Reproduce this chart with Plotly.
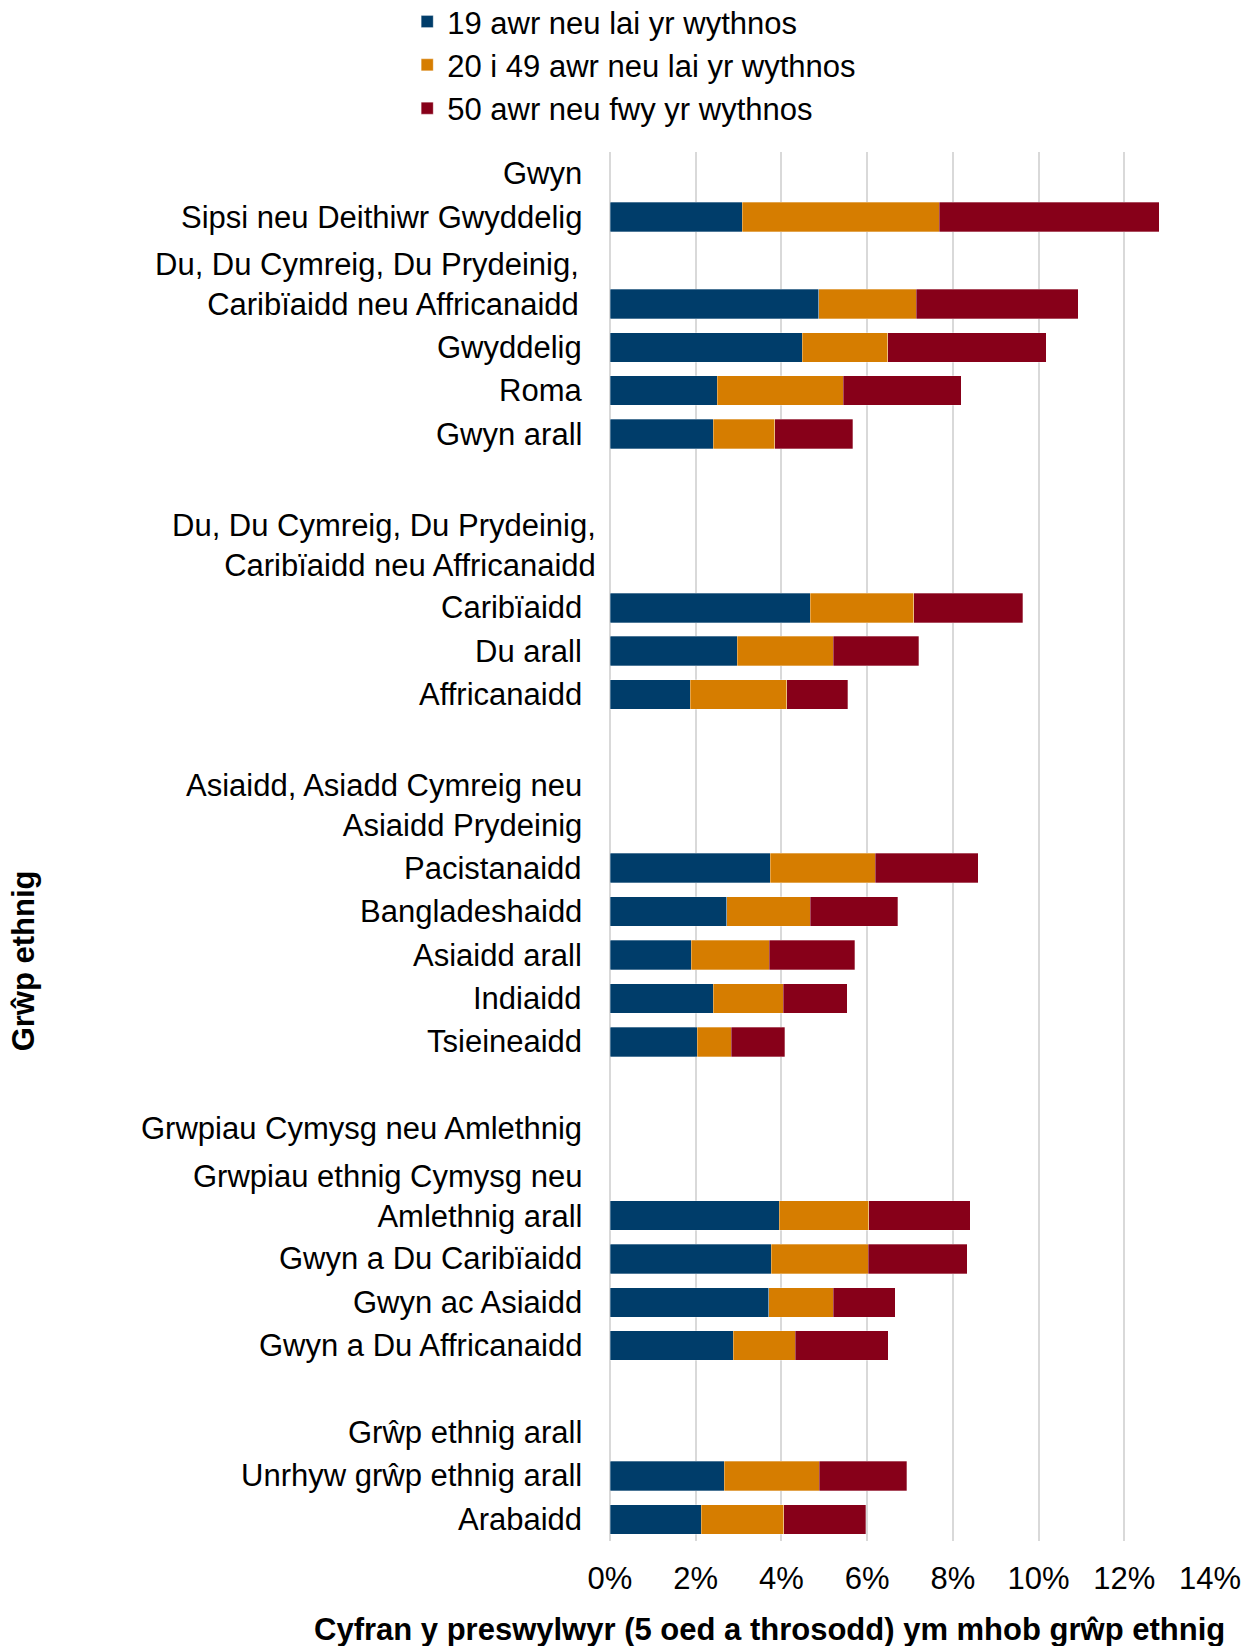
import plotly.graph_objects as go

# ---- data ----
row_labels = [
    "Gwyn", "Sipsi neu Deithiwr Gwyddelig", "",
    "Du, Du Cymreig, Du Prydeinig,<br>Caribïaidd neu Affricanaidd",
    "Gwyddelig", "Roma", "Gwyn arall", "", "",
    "Du, Du Cymreig, Du Prydeinig,<br>Caribïaidd neu Affricanaidd",
    "Caribïaidd", "Du arall", "Affricanaidd", "", "",
    "Asiaidd, Asiadd Cymreig neu<br>Asiaidd Prydeinig",
    "Pacistanaidd", "Bangladeshaidd", "Asiaidd arall", "Indiaidd", "Tsieineaidd", "",
    "Grwpiau Cymysg neu Amlethnig", "",
    "Grwpiau ethnig Cymysg neu<br>Amlethnig arall",
    "Gwyn a Du Caribïaidd", "Gwyn ac Asiaidd", "Gwyn a Du Affricanaidd", "",
    "Grŵp ethnig arall", "Unrhyw grŵp ethnig arall", "Arabaidd",
]
low = [None, 3.09, None, 4.87, 4.48, 2.50, 2.41, None, None, None, 4.67, 2.97, 1.87,
       None, None, None, 3.74, 2.72, 1.89, 2.41, 2.03, None, None, None, 3.95, 3.76,
       3.70, 2.87, None, None, 2.67, 2.13]
mid = [None, 4.59, None, 2.27, 2.00, 2.94, 1.43, None, None, None, 2.42, 2.24, 2.25,
       None, None, None, 2.45, 1.95, 1.83, 1.63, 0.80, None, None, None, 2.09, 2.26,
       1.51, 1.45, None, None, 2.21, 1.92]
high = [None, 5.13, None, 3.78, 3.70, 2.75, 1.82, None, None, None, 2.54, 1.99, 1.43,
        None, None, None, 2.40, 2.04, 1.99, 1.50, 1.25, None, None, None, 2.37, 2.32,
        1.45, 2.17, None, None, 2.04, 1.92]
series_names = ["19 awr neu lai yr wythnos", "20 i 49 awr neu lai yr wythnos",
                "50 awr neu fwy yr wythnos"]
x_ticks = [0, 2, 4, 6, 8, 10, 12, 14]
x_title = "Cyfran y preswylwyr (5 oed a throsodd) ym mhob grŵp ethnig"
y_title = "Grŵp ethnig"

# ---- styles ----
colors = ["#003D6A", "#D67D00", "#870019"]
FONT = "Liberation Sans, Arial, sans-serif"
FS = 31

positions = list(range(len(row_labels)))

fig = go.Figure()
for name, vals, col in zip(series_names, [low, mid, high], colors):
    fig.add_trace(go.Bar(
        y=positions, x=vals, name=name, orientation="h",
        marker=dict(color=col, line=dict(width=0.6, color="rgba(255,255,255,0.5)")),
        width=0.68,
    ))

# category labels as annotations (last line aligned with row)
xshift_map = {3: -29, 9: -12}
for i, lab in enumerate(row_labels):
    if not lab:
        continue
    nlines = lab.count("<br>") + 1
    xs = xshift_map.get(i, -26)
    fig.add_annotation(
        xref="paper", yref="y", x=0, y=i, text=lab, showarrow=False,
        xanchor="right", yanchor="middle", align="right",
        xshift=xs, yshift=(nlines - 1) * 19,
        font=dict(family=FONT, size=FS, color="#000000"),
    )

fig.add_annotation(
    xref="paper", yref="paper", x=0.265, y=0, yshift=-88, text=f"<b>{x_title}</b>",
    showarrow=False, xanchor="center", yanchor="middle",
    font=dict(family=FONT, size=31, color="#000000"),
)
fig.add_annotation(
    xref="paper", yref="paper", x=-0.976, y=0.4176, text=f"<b>{y_title}</b>",
    showarrow=False, textangle=-90, xanchor="center", yanchor="middle",
    font=dict(family=FONT, size=31, color="#000000"),
)

fig.update_layout(
    width=1243, height=1646,
    margin=dict(l=610, r=33, t=152, b=105, autoexpand=False),
    barmode="stack",
    plot_bgcolor="white", paper_bgcolor="white",
    font=dict(family=FONT, size=FS, color="#000000"),
    showlegend=True,
    legend=dict(
        x=-0.338, y=1.1131, xanchor="left", yanchor="top",
        font=dict(family=FONT, size=FS, color="#000000"),
        traceorder="normal", bgcolor="rgba(0,0,0,0)",
        itemwidth=30, tracegroupgap=0,
    ),
    xaxis=dict(
        range=[0, 14], tickvals=x_ticks, ticktext=[f"{v}%" for v in x_ticks],
        showgrid=True, gridcolor="#D9D9D9", gridwidth=1.5,
        zeroline=True, zerolinecolor="#D9D9D9", zerolinewidth=1.5,
        showline=False, ticks="outside", ticklen=10, tickcolor="rgba(0,0,0,0)",
        tickfont=dict(family=FONT, size=FS, color="#000000"),
        fixedrange=True,
    ),
    yaxis=dict(
        range=[len(row_labels) - 0.5, -0.5], showticklabels=False,
        showgrid=False, zeroline=False, showline=False, ticks="",
        fixedrange=True,
    ),
)

fig.write_html(
    "out.html",
    config={"displayModeBar": False},
    post_script="document.body.style.margin='0';document.body.style.overflow='hidden';",
)
